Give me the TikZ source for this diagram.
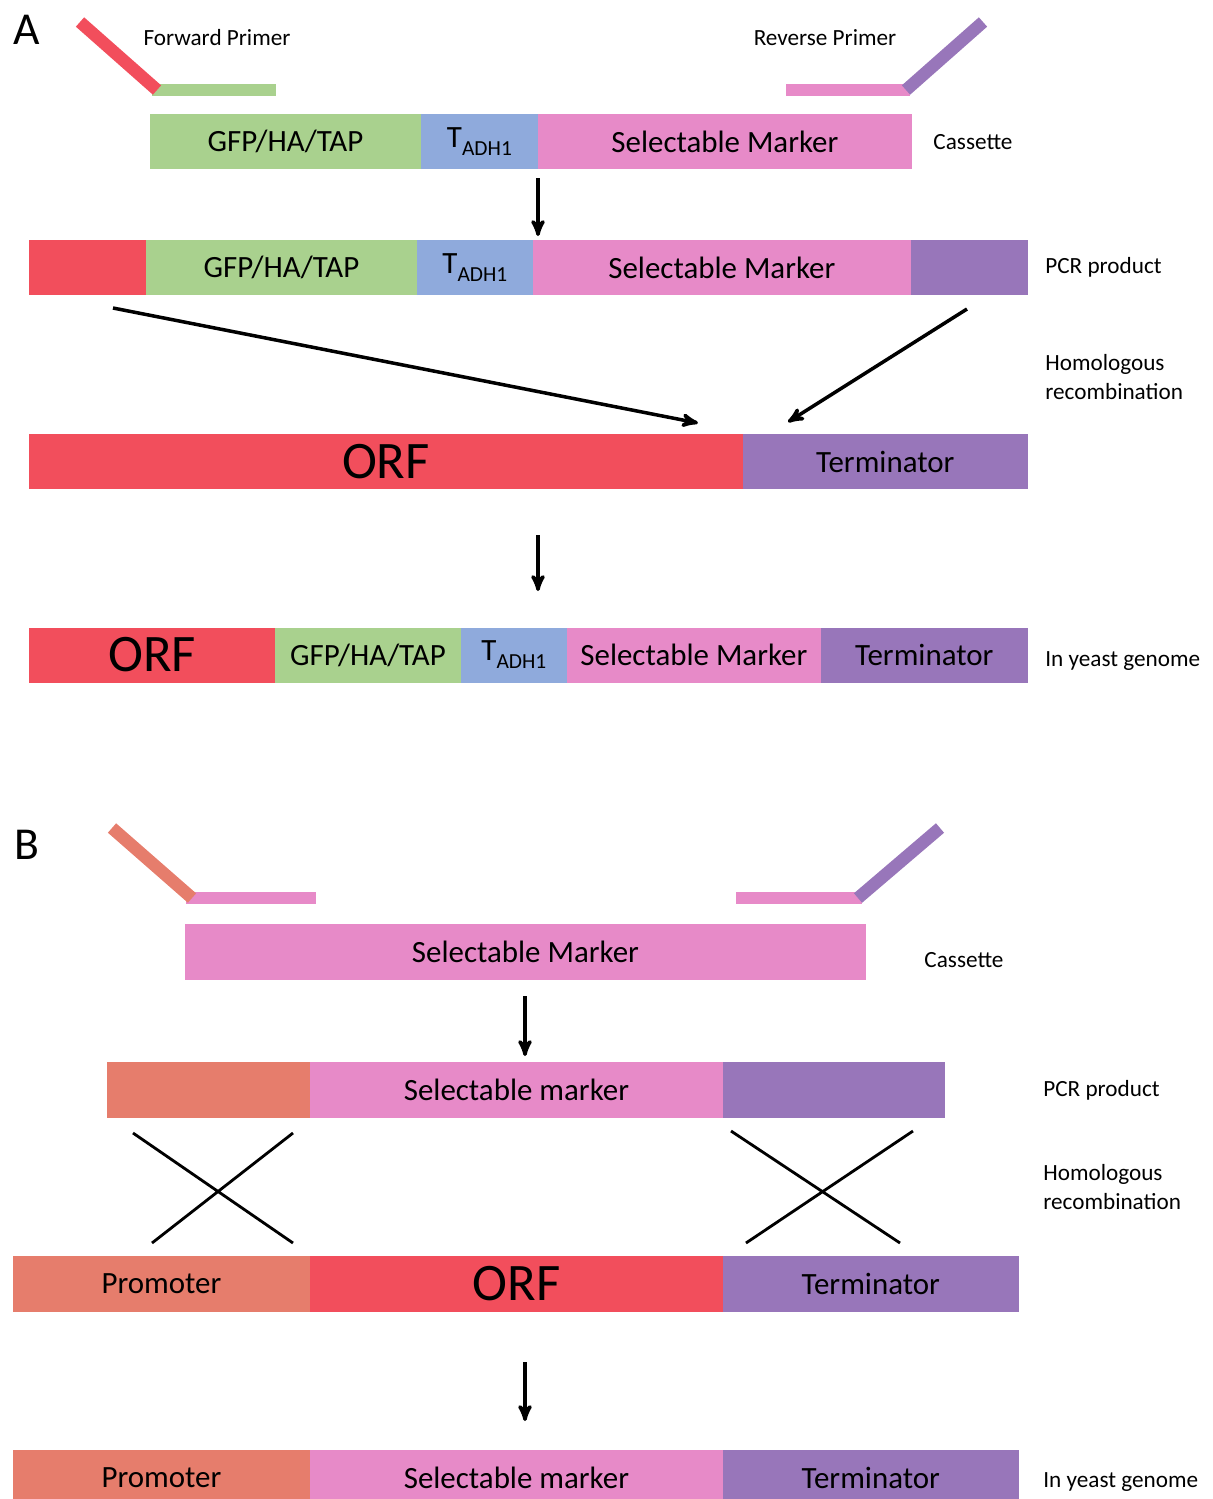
\documentclass[tikz,border=0pt]{standalone}
\usepackage{fontspec}
\setmainfont{Carlito}
\definecolor{orfred}{HTML}{F24E5C}
\definecolor{taggreen}{HTML}{A9D18E}
\definecolor{tadhblue}{HTML}{8FAADC}
\definecolor{markerpink}{HTML}{E78AC8}
\definecolor{termpurple}{HTML}{9876BA}
\definecolor{promsalmon}{HTML}{E67D6C}
\usetikzlibrary{arrows,positioning,calc}
\tikzset{
	>=stealth',
	segment/.style={
		rectangle,
		inner sep=0pt, outer sep=0pt,
		minimum height=1.1cm,
		text centered,
		font=\fontsize{17.6}{19}\selectfont},
	bigseg/.style={segment, font=\fontsize{30}{32}\selectfont},
	smalllabel/.style={font=\fontsize{13.2}{16}\selectfont, inner sep=0pt},
	sidelabel/.style={smalllabel, anchor=west, align=left},
	panel/.style={font=\fontsize{26}{28}\selectfont, inner sep=0pt},
	primer/.style={line width=0.25cm, line cap=butt},
	arrowline/.style={->, line width=2pt},
	crossline/.style={line width=1.6pt},
}
\newcommand*\tadh{T\raisebox{-0.55ex}{\fontsize{12.2}{13}\selectfont ADH1}}

\begin{document}
\begin{tikzpicture}
[x=0.02cm, y=-0.02cm,
node distance=0pt]
\useasboundingbox (0,0) rectangle (1213,1499);

% ---- panel A
\node[panel] (labA) at (27,30) {A};

% primers
\fill[taggreen] (152,84) rectangle (276,96);
\draw[primer, orfred] (80,22) -- (157,90);
\fill[markerpink] (786,84) rectangle (910,96);
\draw[primer, termpurple] (906,90) -- (983,22);
\node[smalllabel] (fwd) at (217,38) {Forward Primer};
\node[smalllabel] (rev) at (825,38) {Reverse Primer};

% cassette
\node[segment, fill=taggreen, minimum width=5.42cm, anchor=west] (casgfp) at (150,141.5) {GFP/HA/TAP};
\node[segment, fill=tadhblue, minimum width=2.34cm, right=of casgfp] (castadh) {\tadh};
\node[segment, fill=markerpink, minimum width=7.48cm, right=of castadh] (casmark) {Selectable Marker};
\node[smalllabel] (caslab) at (973,142) {Cassette};

\coordinate (a1s) at (538,178);
\coordinate (a1e) at (538,236);
\draw[arrowline] (a1s) -- (a1e);

% PCR product
\node[segment, fill=orfred, minimum width=2.34cm, anchor=west] (pcrorf) at (29,267.5) {};
\node[segment, fill=taggreen, minimum width=5.42cm, right=of pcrorf] (pcrgfp) {GFP/HA/TAP};
\node[segment, fill=tadhblue, minimum width=2.32cm, right=of pcrgfp] (pcrtadh) {\tadh};
\node[segment, fill=markerpink, minimum width=7.56cm, right=of pcrtadh] (pcrmark) {Selectable Marker};
\node[segment, fill=termpurple, minimum width=2.34cm, right=of pcrmark] (pcrterm) {};
\node[sidelabel] (pcrlab) at (1045,267) {PCR product};

\coordinate (h1s) at (113,308);
\coordinate (h1e) at (698,423);
\coordinate (h2s) at (967,309);
\coordinate (h2e) at (788,422);
\draw[arrowline] (h1s) -- (h1e);
\draw[arrowline] (h2s) -- (h2e);
\node[sidelabel] (homlabA) at (1045,377) {Homologous\\recombination};

% chromosome
\node[bigseg, fill=orfred, minimum width=14.28cm, anchor=west] (chrorf) at (29,461.5) {ORF};
\node[segment, fill=termpurple, minimum width=5.70cm, right=of chrorf] (chrterm) {Terminator};

\coordinate (a2s) at (538,535);
\coordinate (a2e) at (538,591);
\draw[arrowline] (a2s) -- (a2e);

% result
\node[bigseg, fill=orfred, minimum width=4.92cm, anchor=west] (resorf) at (29,655) {ORF};
\node[segment, fill=taggreen, minimum width=3.72cm, right=of resorf] (resgfp) {GFP/HA/TAP};
\node[segment, fill=tadhblue, minimum width=2.12cm, right=of resgfp] (restadh) {\tadh};
\node[segment, fill=markerpink, minimum width=5.08cm, right=of restadh] (resmark) {Selectable Marker};
\node[segment, fill=termpurple, minimum width=4.14cm, right=of resmark] (resterm) {Terminator};
\node[sidelabel] (reslab) at (1045,661) {In yeast genome};

% ---- panel B
\node[panel] (labB) at (27,845) {B};

% primers
\fill[markerpink] (186,892) rectangle (316,904);
\draw[primer, promsalmon] (112,828) -- (192,898);
\fill[markerpink] (736,892) rectangle (862,904);
\draw[primer, termpurple] (858,898) -- (940,828);

% cassette
\node[segment, fill=markerpink, minimum width=13.62cm, minimum height=1.12cm, anchor=west] (bcas) at (185,952) {Selectable Marker};
\node[smalllabel] (bcaslab) at (964,960) {Cassette};

\coordinate (b1s) at (525,996);
\coordinate (b1e) at (525,1056);
\draw[arrowline] (b1s) -- (b1e);

% PCR product
\node[segment, fill=promsalmon, minimum width=4.06cm, minimum height=1.12cm, anchor=west] (bpcrprom) at (107,1090) {};
\node[segment, fill=markerpink, minimum width=8.26cm, minimum height=1.12cm, right=of bpcrprom] (bpcrmark) {Selectable marker};
\node[segment, fill=termpurple, minimum width=4.44cm, minimum height=1.12cm, right=of bpcrmark] (bpcrterm) {};
\node[sidelabel] (bpcrlab) at (1043,1090) {PCR product};

% crossovers
\coordinate (x1a) at (133,1133);
\coordinate (x1b) at (293,1243);
\coordinate (x1c) at (293,1133);
\coordinate (x1d) at (152,1243);
\coordinate (x2a) at (731,1131);
\coordinate (x2b) at (900,1243);
\coordinate (x2c) at (913,1131);
\coordinate (x2d) at (746,1243);
\draw[crossline] (x1a) -- (x1b) (x1c) -- (x1d);
\draw[crossline] (x2a) -- (x2b) (x2c) -- (x2d);
\node[sidelabel] (bhomlab) at (1043,1187) {Homologous\\recombination};

% chromosome
\node[segment, fill=promsalmon, minimum width=5.94cm, minimum height=1.12cm, anchor=west] (bchrprom) at (13,1284) {Promoter};
\node[bigseg, fill=orfred, minimum width=8.26cm, minimum height=1.12cm, right=of bchrprom] (bchrorf) {ORF};
\node[segment, fill=termpurple, minimum width=5.92cm, minimum height=1.12cm, right=of bchrorf] (bchrterm) {Terminator};

\coordinate (b2s) at (525,1362);
\coordinate (b2e) at (525,1421);
\draw[arrowline] (b2s) -- (b2e);

% result
\node[segment, fill=promsalmon, minimum width=5.94cm, minimum height=1.12cm, anchor=west] (bresprom) at (13,1478) {Promoter};
\node[segment, fill=markerpink, minimum width=8.26cm, minimum height=1.12cm, right=of bresprom] (bresmark) {Selectable marker};
\node[segment, fill=termpurple, minimum width=5.92cm, minimum height=1.12cm, right=of bresmark] (bresterm) {Terminator};
\node[sidelabel] (breslab) at (1043,1482) {In yeast genome};
\end{tikzpicture}
\end{document}
